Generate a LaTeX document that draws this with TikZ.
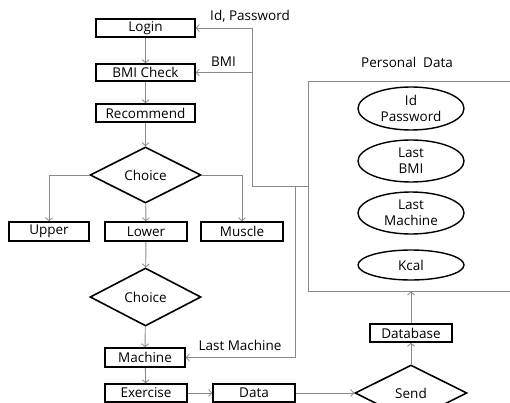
\documentclass[tikz,border=0pt]{standalone}
\usepackage{fontspec}
\setmainfont{Open Sans}
\usetikzlibrary{arrows.meta,shapes.geometric}
\definecolor{linegray}{HTML}{8A8A8A}
\begin{document}
\begin{tikzpicture}[x=1pt,y=-1pt,
  font=\fontsize{13.5}{15.5}\selectfont,
  box/.style={draw=black,line width=1.6pt,fill=white,rectangle,inner sep=0pt,minimum height=18pt},
  choice/.style={draw=black,line width=1.6pt,diamond,aspect=2,inner sep=0pt,minimum width=111pt,minimum height=56pt},
  field/.style={draw=black,line width=1.4pt,ellipse,inner sep=0pt,minimum width=106pt,align=center,font=\fontsize{13.5}{16}\selectfont},
  flow/.style={draw=linegray,line width=0.9pt,-{Straight Barb[length=3pt,width=7pt,line width=0.8pt]}},
  link/.style={draw=linegray,line width=0.9pt},
  lbl/.style={inner sep=0pt}]
\useasboundingbox (0,0) rectangle (510,403);
\clip (0,0) rectangle (510,403);

% main flow
\node[box,minimum width=99pt] (login) at (145.5,28) {Login};
\node[box,minimum width=99pt,minimum height=17pt] (bmi) at (145.5,72.5) {BMI Check};
\node[box,minimum width=99pt] (rec) at (145.5,113) {Recommend};
\node[choice] (ch1) at (145.5,175) {Choice};
\node[box,minimum width=80pt,minimum height=19pt] (upper) at (49,231.5) {Upper};
\node[box,minimum width=82pt,minimum height=19pt] (lower) at (146,231.5) {Lower};
\node[box,minimum width=82pt,minimum height=19pt] (muscle) at (242,231.5) {Muscle};
\node[choice,minimum height=58pt] (ch2) at (145.5,297) {Choice};
\node[box,minimum width=80pt,minimum height=19pt] (machine) at (145,357.5) {Machine};
\node[box,minimum width=82pt] (exercise) at (146,393) {Exercise};
\node[box,minimum width=82pt] (data) at (254,393) {Data};
\node[choice,minimum width=112pt] (send) at (411,393) {Send};
\node[box,minimum width=82pt] (db) at (411,333) {Database};

% personal data store
\node[draw=linegray,line width=0.9pt,rectangle,minimum width=217pt,minimum height=210pt,inner sep=0pt] (pd) at (416.5,186) {};
\node[lbl] (pdlabel) at (407,62) {Personal\ \ Data};
\node[field,minimum height=43pt] (f1) at (411,108.5) {Id\\Password};
\node[field,minimum height=42pt] (f2) at (411,161) {Last\\BMI};
\node[field,minimum height=42pt] (f3) at (411,213) {Last\\Machine};
\node[field,minimum height=30pt] (f4) at (411,265) {Kcal};

% connectors of the main flow
\draw[flow] (login) -- (bmi);
\draw[flow] (bmi) -- (rec);
\draw[flow] (rec) -- (ch1);
\draw[flow] (ch1.west) -| (upper.north);
\draw[flow] (ch1) -- (lower);
\draw[flow] (ch1.east) -| (muscle.north);
\draw[flow] (lower) -- (ch2);
\draw[flow] (ch2) -- (machine);
\draw[flow] (machine) -- (exercise);
\draw[flow] (exercise) -- (data);
\draw[flow] (data) -- (send);
\draw[flow] (send) -- (db);
\draw[flow] (db) -- (pd.south -| db);

% values fed back from the store
\coordinate (fb) at (252,186);
\coordinate (fm) at (295,186);
\draw[link] (pd.west) -- (fb);
\draw[flow] (fb) |- (login.east);
\draw[flow] (fb |- bmi.east) -- (bmi.east);
\draw[flow] (fm) |- (machine.east);

\node[lbl] (lid) at (250,16) {Id,\ Password};
\node[lbl] (lbmi) at (223.5,62) {BMI};
\node[lbl] (lmach) at (240,345) {Last Machine};
\end{tikzpicture}
\end{document}
